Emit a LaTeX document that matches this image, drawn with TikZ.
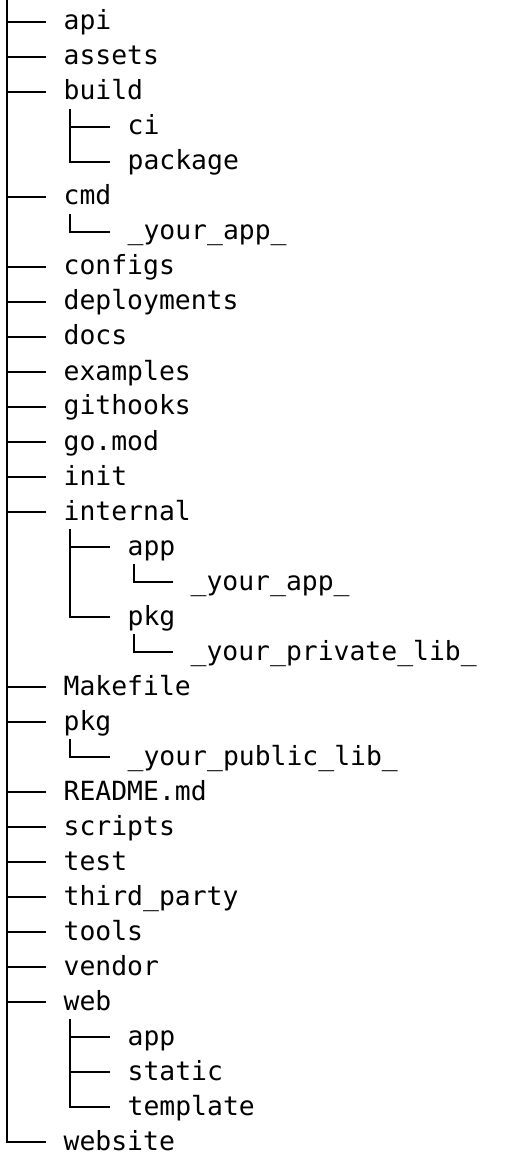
\documentclass[tikz,border=0pt]{standalone}
\usepackage{fontspec}
\newfontfamily\treefont{DejaVu Sans Mono}
\begin{document}
\begin{tikzpicture}[x=0.5pt, y=-0.5pt, line width=0.65pt,
  entry/.style={anchor=base west, inner sep=0pt, yshift=-4pt, font=\treefont\fontsize{13.2}{13.2}\selectfont}]
\useasboundingbox (0,0) rectangle (513,1165);
\coordinate (root) at (7,0);
% top level
\node[entry] (api) at (63,22) {api};
\node[entry] (assets) at (63,57) {assets};
\node[entry] (build) at (63,92) {build};
\node[entry] (buildci) at (127,127) {ci};
\node[entry] (buildpackage) at (127,162) {package};
\node[entry] (cmd) at (63,197) {cmd};
\node[entry] (cmdapp) at (127,232) {\_your\_app\_};
\node[entry] (configs) at (63,267) {configs};
\node[entry] (deployments) at (63,302) {deployments};
\node[entry] (docs) at (63,337) {docs};
\node[entry] (examples) at (63,372) {examples};
\node[entry] (githooks) at (63,407) {githooks};
\node[entry] (gomod) at (63,442) {go.mod};
\node[entry] (init) at (63,477) {init};
\node[entry] (internal) at (63,512) {internal};
\node[entry] (internalapp) at (127,547) {app};
\node[entry] (internalyourapp) at (190,582) {\_your\_app\_};
\node[entry] (internalpkg) at (127,617) {pkg};
\node[entry] (internallib) at (190,652) {\_your\_private\_lib\_};
\node[entry] (makefile) at (63,687) {Makefile};
\node[entry] (pkg) at (63,722) {pkg};
\node[entry] (pkglib) at (127,757) {\_your\_public\_lib\_};
\node[entry] (readme) at (63,792) {README.md};
\node[entry] (scripts) at (63,827) {scripts};
\node[entry] (test) at (63,862) {test};
\node[entry] (thirdparty) at (63,897) {third\_party};
\node[entry] (tools) at (63,932) {tools};
\node[entry] (vendor) at (63,967) {vendor};
\node[entry] (web) at (63,1002) {web};
\node[entry] (webapp) at (127,1037) {app};
\node[entry] (webstatic) at (127,1072) {static};
\node[entry] (webtemplate) at (127,1107) {template};
\node[entry] (website) at (63,1142) {website};

% branches
\foreach \n in {api,assets,build,cmd,configs,deployments,docs,examples,githooks,gomod,init,internal,makefile,pkg,readme,scripts,test,thirdparty,tools,vendor,web,website}
  \draw (root) |- ([shift={(-17,-8)}]\n.base west);
\foreach \p/\c in {build/buildci,build/buildpackage,cmd/cmdapp,internal/internalapp,internal/internalpkg,internalapp/internalyourapp,internalpkg/internallib,pkg/pkglib,web/webapp,web/webstatic,web/webtemplate}
  \draw ([shift={(7,9)}]\p.base west) |- ([shift={(-17,-8)}]\c.base west);
\end{tikzpicture}
\end{document}
